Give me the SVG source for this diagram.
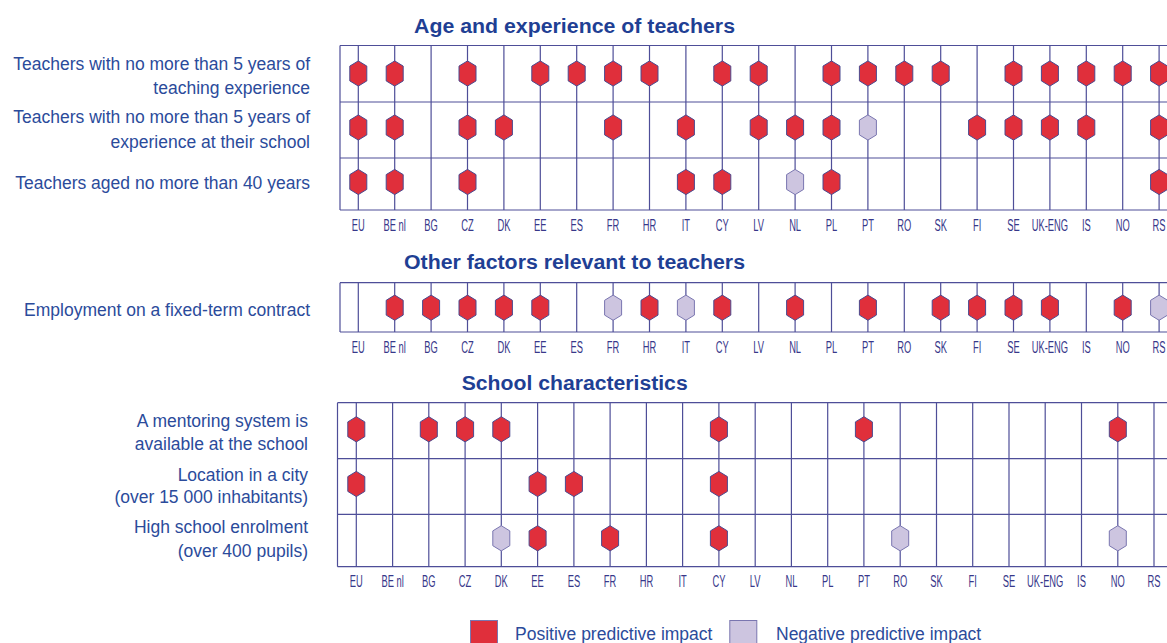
<svg xmlns="http://www.w3.org/2000/svg" width="1167" height="643" viewBox="0 0 1167 643">
<style>
.bg{fill:#ffffff}
.grid line{stroke:#4e4e98;stroke-width:1.2}
.title{font-family:"Liberation Sans",Arial,sans-serif;font-weight:bold;font-size:20px;fill:#1f3f94;text-anchor:middle}
.lab{font-family:"Liberation Sans",Arial,sans-serif;font-size:17.5px;fill:#2b4b9b;text-anchor:end}
.ax{font-family:"Liberation Sans",Arial,sans-serif;font-size:17px;fill:#38388a;text-anchor:middle}
.leg{font-family:"Liberation Sans",Arial,sans-serif;font-size:17.5px;fill:#2b4b9b}
.pos{fill:#e02f3b;stroke:#4a4a90;stroke-width:1}
.neg{fill:#cdc5e0;stroke:#7a76b0;stroke-width:1}
</style>
<defs>
<path id="hex" d="M0,-12.6 L8.5,-7.4 L8.5,7.4 L0,12.6 L-8.5,7.4 L-8.5,-7.4 Z"/>
</defs>
<rect class="bg" x="0" y="0" width="1167" height="643"/>

<!-- Panel 1 -->
<g id="panel-age">
<text class="title" x="574.5" y="32.5" textLength="321" lengthAdjust="spacingAndGlyphs">Age and experience of teachers</text>
<g id="labels-age">
<text class="lab" x="310" y="70">Teachers with no more than 5 years of</text>
<text class="lab" x="310" y="94.3">teaching experience</text>
<text class="lab" x="310" y="123.3">Teachers with no more than 5 years of</text>
<text class="lab" x="310" y="148.3">experience at their school</text>
<text class="lab" x="310" y="189">Teachers aged no more than 40 years</text>
</g>
<g class="grid" id="grid-age">
<line x1="340" y1="45.5" x2="1167" y2="45.5"/>
<line x1="340" y1="102" x2="1167" y2="102"/>
<line x1="340" y1="158" x2="1167" y2="158"/>
<line x1="340" y1="210" x2="1167" y2="210"/>
<line x1="340" y1="45.5" x2="340" y2="210"/>
<line x1="358.3" y1="45.5" x2="358.3" y2="210"/>
<line x1="394.7" y1="45.5" x2="394.7" y2="210"/>
<line x1="431.1" y1="45.5" x2="431.1" y2="210"/>
<line x1="467.5" y1="45.5" x2="467.5" y2="210"/>
<line x1="503.9" y1="45.5" x2="503.9" y2="210"/>
<line x1="540.3" y1="45.5" x2="540.3" y2="210"/>
<line x1="576.7" y1="45.5" x2="576.7" y2="210"/>
<line x1="613.1" y1="45.5" x2="613.1" y2="210"/>
<line x1="649.5" y1="45.5" x2="649.5" y2="210"/>
<line x1="685.9" y1="45.5" x2="685.9" y2="210"/>
<line x1="722.3" y1="45.5" x2="722.3" y2="210"/>
<line x1="758.7" y1="45.5" x2="758.7" y2="210"/>
<line x1="795.1" y1="45.5" x2="795.1" y2="210"/>
<line x1="831.5" y1="45.5" x2="831.5" y2="210"/>
<line x1="867.9" y1="45.5" x2="867.9" y2="210"/>
<line x1="904.3" y1="45.5" x2="904.3" y2="210"/>
<line x1="940.7" y1="45.5" x2="940.7" y2="210"/>
<line x1="977.1" y1="45.5" x2="977.1" y2="210"/>
<line x1="1013.5" y1="45.5" x2="1013.5" y2="210"/>
<line x1="1049.9" y1="45.5" x2="1049.9" y2="210"/>
<line x1="1086.3" y1="45.5" x2="1086.3" y2="210"/>
<line x1="1122.7" y1="45.5" x2="1122.7" y2="210"/>
<line x1="1159.1" y1="45.5" x2="1159.1" y2="210"/>
</g>
<g id="markers-age">
<use href="#hex" class="pos" x="358.3" y="73.5"/>
<use href="#hex" class="pos" x="394.7" y="73.5"/>
<use href="#hex" class="pos" x="467.5" y="73.5"/>
<use href="#hex" class="pos" x="540.3" y="73.5"/>
<use href="#hex" class="pos" x="576.7" y="73.5"/>
<use href="#hex" class="pos" x="613.1" y="73.5"/>
<use href="#hex" class="pos" x="649.5" y="73.5"/>
<use href="#hex" class="pos" x="722.3" y="73.5"/>
<use href="#hex" class="pos" x="758.7" y="73.5"/>
<use href="#hex" class="pos" x="831.5" y="73.5"/>
<use href="#hex" class="pos" x="867.9" y="73.5"/>
<use href="#hex" class="pos" x="904.3" y="73.5"/>
<use href="#hex" class="pos" x="940.7" y="73.5"/>
<use href="#hex" class="pos" x="1013.5" y="73.5"/>
<use href="#hex" class="pos" x="1049.9" y="73.5"/>
<use href="#hex" class="pos" x="1086.3" y="73.5"/>
<use href="#hex" class="pos" x="1122.7" y="73.5"/>
<use href="#hex" class="pos" x="1159.1" y="73.5"/>

<use href="#hex" class="pos" x="358.3" y="127.5"/>
<use href="#hex" class="pos" x="394.7" y="127.5"/>
<use href="#hex" class="pos" x="467.5" y="127.5"/>
<use href="#hex" class="pos" x="503.9" y="127.5"/>
<use href="#hex" class="pos" x="613.1" y="127.5"/>
<use href="#hex" class="pos" x="685.9" y="127.5"/>
<use href="#hex" class="pos" x="758.7" y="127.5"/>
<use href="#hex" class="pos" x="795.1" y="127.5"/>
<use href="#hex" class="pos" x="831.5" y="127.5"/>
<use href="#hex" class="neg" x="867.9" y="127.5"/>
<use href="#hex" class="pos" x="977.1" y="127.5"/>
<use href="#hex" class="pos" x="1013.5" y="127.5"/>
<use href="#hex" class="pos" x="1049.9" y="127.5"/>
<use href="#hex" class="pos" x="1086.3" y="127.5"/>
<use href="#hex" class="pos" x="1159.1" y="127.5"/>

<use href="#hex" class="pos" x="358.3" y="182"/>
<use href="#hex" class="pos" x="394.7" y="182"/>
<use href="#hex" class="pos" x="467.5" y="182"/>
<use href="#hex" class="pos" x="685.9" y="182"/>
<use href="#hex" class="pos" x="722.3" y="182"/>
<use href="#hex" class="neg" x="795.1" y="182"/>
<use href="#hex" class="pos" x="831.5" y="182"/>
<use href="#hex" class="pos" x="1159.1" y="182"/>
</g>
<g id="axis-age">
<text class="ax" transform="translate(358.3,230.5) scale(0.55,1)">EU</text>
<text class="ax" transform="translate(394.7,230.5) scale(0.55,1)">BE nl</text>
<text class="ax" transform="translate(431.1,230.5) scale(0.55,1)">BG</text>
<text class="ax" transform="translate(467.5,230.5) scale(0.55,1)">CZ</text>
<text class="ax" transform="translate(503.9,230.5) scale(0.55,1)">DK</text>
<text class="ax" transform="translate(540.3,230.5) scale(0.55,1)">EE</text>
<text class="ax" transform="translate(576.7,230.5) scale(0.55,1)">ES</text>
<text class="ax" transform="translate(613.1,230.5) scale(0.55,1)">FR</text>
<text class="ax" transform="translate(649.5,230.5) scale(0.55,1)">HR</text>
<text class="ax" transform="translate(685.9,230.5) scale(0.55,1)">IT</text>
<text class="ax" transform="translate(722.3,230.5) scale(0.55,1)">CY</text>
<text class="ax" transform="translate(758.7,230.5) scale(0.55,1)">LV</text>
<text class="ax" transform="translate(795.1,230.5) scale(0.55,1)">NL</text>
<text class="ax" transform="translate(831.5,230.5) scale(0.55,1)">PL</text>
<text class="ax" transform="translate(867.9,230.5) scale(0.55,1)">PT</text>
<text class="ax" transform="translate(904.3,230.5) scale(0.55,1)">RO</text>
<text class="ax" transform="translate(940.7,230.5) scale(0.55,1)">SK</text>
<text class="ax" transform="translate(977.1,230.5) scale(0.55,1)">FI</text>
<text class="ax" transform="translate(1013.5,230.5) scale(0.55,1)">SE</text>
<text class="ax" transform="translate(1049.9,230.5) scale(0.55,1)">UK-ENG</text>
<text class="ax" transform="translate(1086.3,230.5) scale(0.55,1)">IS</text>
<text class="ax" transform="translate(1122.7,230.5) scale(0.55,1)">NO</text>
<text class="ax" transform="translate(1159.1,230.5) scale(0.55,1)">RS</text>
</g>
</g>

<!-- Panel 2 -->
<g id="panel-other">
<text class="title" x="574.5" y="269" textLength="341" lengthAdjust="spacingAndGlyphs">Other factors relevant to teachers</text>
<text class="lab" x="310" y="316">Employment on a fixed-term contract</text>
<g class="grid" id="grid-other">
<line x1="340" y1="282.7" x2="1167" y2="282.7"/>
<line x1="340" y1="332" x2="1167" y2="332"/>
<line x1="340" y1="282.7" x2="340" y2="332"/>
<line x1="358.3" y1="282.7" x2="358.3" y2="332"/>
<line x1="394.7" y1="282.7" x2="394.7" y2="332"/>
<line x1="431.1" y1="282.7" x2="431.1" y2="332"/>
<line x1="467.5" y1="282.7" x2="467.5" y2="332"/>
<line x1="503.9" y1="282.7" x2="503.9" y2="332"/>
<line x1="540.3" y1="282.7" x2="540.3" y2="332"/>
<line x1="576.7" y1="282.7" x2="576.7" y2="332"/>
<line x1="613.1" y1="282.7" x2="613.1" y2="332"/>
<line x1="649.5" y1="282.7" x2="649.5" y2="332"/>
<line x1="685.9" y1="282.7" x2="685.9" y2="332"/>
<line x1="722.3" y1="282.7" x2="722.3" y2="332"/>
<line x1="758.7" y1="282.7" x2="758.7" y2="332"/>
<line x1="795.1" y1="282.7" x2="795.1" y2="332"/>
<line x1="831.5" y1="282.7" x2="831.5" y2="332"/>
<line x1="867.9" y1="282.7" x2="867.9" y2="332"/>
<line x1="904.3" y1="282.7" x2="904.3" y2="332"/>
<line x1="940.7" y1="282.7" x2="940.7" y2="332"/>
<line x1="977.1" y1="282.7" x2="977.1" y2="332"/>
<line x1="1013.5" y1="282.7" x2="1013.5" y2="332"/>
<line x1="1049.9" y1="282.7" x2="1049.9" y2="332"/>
<line x1="1086.3" y1="282.7" x2="1086.3" y2="332"/>
<line x1="1122.7" y1="282.7" x2="1122.7" y2="332"/>
<line x1="1159.1" y1="282.7" x2="1159.1" y2="332"/>
</g>
<g id="markers-other">
<use href="#hex" class="pos" x="394.7" y="307.7"/>
<use href="#hex" class="pos" x="431.1" y="307.7"/>
<use href="#hex" class="pos" x="467.5" y="307.7"/>
<use href="#hex" class="pos" x="503.9" y="307.7"/>
<use href="#hex" class="pos" x="540.3" y="307.7"/>
<use href="#hex" class="neg" x="613.1" y="307.7"/>
<use href="#hex" class="pos" x="649.5" y="307.7"/>
<use href="#hex" class="neg" x="685.9" y="307.7"/>
<use href="#hex" class="pos" x="722.3" y="307.7"/>
<use href="#hex" class="pos" x="795.1" y="307.7"/>
<use href="#hex" class="pos" x="867.9" y="307.7"/>
<use href="#hex" class="pos" x="940.7" y="307.7"/>
<use href="#hex" class="pos" x="977.1" y="307.7"/>
<use href="#hex" class="pos" x="1013.5" y="307.7"/>
<use href="#hex" class="pos" x="1049.9" y="307.7"/>
<use href="#hex" class="pos" x="1122.7" y="307.7"/>
<use href="#hex" class="neg" x="1159.1" y="307.7"/>
</g>
<g id="axis-other">
<text class="ax" transform="translate(358.3,353) scale(0.55,1)">EU</text>
<text class="ax" transform="translate(394.7,353) scale(0.55,1)">BE nl</text>
<text class="ax" transform="translate(431.1,353) scale(0.55,1)">BG</text>
<text class="ax" transform="translate(467.5,353) scale(0.55,1)">CZ</text>
<text class="ax" transform="translate(503.9,353) scale(0.55,1)">DK</text>
<text class="ax" transform="translate(540.3,353) scale(0.55,1)">EE</text>
<text class="ax" transform="translate(576.7,353) scale(0.55,1)">ES</text>
<text class="ax" transform="translate(613.1,353) scale(0.55,1)">FR</text>
<text class="ax" transform="translate(649.5,353) scale(0.55,1)">HR</text>
<text class="ax" transform="translate(685.9,353) scale(0.55,1)">IT</text>
<text class="ax" transform="translate(722.3,353) scale(0.55,1)">CY</text>
<text class="ax" transform="translate(758.7,353) scale(0.55,1)">LV</text>
<text class="ax" transform="translate(795.1,353) scale(0.55,1)">NL</text>
<text class="ax" transform="translate(831.5,353) scale(0.55,1)">PL</text>
<text class="ax" transform="translate(867.9,353) scale(0.55,1)">PT</text>
<text class="ax" transform="translate(904.3,353) scale(0.55,1)">RO</text>
<text class="ax" transform="translate(940.7,353) scale(0.55,1)">SK</text>
<text class="ax" transform="translate(977.1,353) scale(0.55,1)">FI</text>
<text class="ax" transform="translate(1013.5,353) scale(0.55,1)">SE</text>
<text class="ax" transform="translate(1049.9,353) scale(0.55,1)">UK-ENG</text>
<text class="ax" transform="translate(1086.3,353) scale(0.55,1)">IS</text>
<text class="ax" transform="translate(1122.7,353) scale(0.55,1)">NO</text>
<text class="ax" transform="translate(1159.1,353) scale(0.55,1)">RS</text>
</g>
</g>

<!-- Panel 3 -->
<g id="panel-school">
<text class="title" x="574.7" y="390" textLength="226" lengthAdjust="spacingAndGlyphs">School characteristics</text>
<g id="labels-school">
<text class="lab" x="308" y="426.5">A mentoring system is</text>
<text class="lab" x="308" y="450">available at the school</text>
<text class="lab" x="308" y="480.5">Location in a city</text>
<text class="lab" x="308" y="502.5">(over 15 000 inhabitants)</text>
<text class="lab" x="308" y="533">High school enrolment</text>
<text class="lab" x="308" y="556.5">(over 400 pupils)</text>
</g>
<g class="grid" id="grid-school">
<line x1="337.5" y1="402.7" x2="1167" y2="402.7"/>
<line x1="337.5" y1="458.7" x2="1167" y2="458.7"/>
<line x1="337.5" y1="514.3" x2="1167" y2="514.3"/>
<line x1="337.5" y1="566.7" x2="1167" y2="566.7"/>
<line x1="337.5" y1="402.7" x2="337.5" y2="566.7"/>
<line x1="356.3" y1="402.7" x2="356.3" y2="566.7"/>
<line x1="392.6" y1="402.7" x2="392.6" y2="566.7"/>
<line x1="428.8" y1="402.7" x2="428.8" y2="566.7"/>
<line x1="465.1" y1="402.7" x2="465.1" y2="566.7"/>
<line x1="501.3" y1="402.7" x2="501.3" y2="566.7"/>
<line x1="537.6" y1="402.7" x2="537.6" y2="566.7"/>
<line x1="573.9" y1="402.7" x2="573.9" y2="566.7"/>
<line x1="610.1" y1="402.7" x2="610.1" y2="566.7"/>
<line x1="646.4" y1="402.7" x2="646.4" y2="566.7"/>
<line x1="682.6" y1="402.7" x2="682.6" y2="566.7"/>
<line x1="718.9" y1="402.7" x2="718.9" y2="566.7"/>
<line x1="755.2" y1="402.7" x2="755.2" y2="566.7"/>
<line x1="791.4" y1="402.7" x2="791.4" y2="566.7"/>
<line x1="827.7" y1="402.7" x2="827.7" y2="566.7"/>
<line x1="863.9" y1="402.7" x2="863.9" y2="566.7"/>
<line x1="900.2" y1="402.7" x2="900.2" y2="566.7"/>
<line x1="936.5" y1="402.7" x2="936.5" y2="566.7"/>
<line x1="972.7" y1="402.7" x2="972.7" y2="566.7"/>
<line x1="1009" y1="402.7" x2="1009" y2="566.7"/>
<line x1="1045.2" y1="402.7" x2="1045.2" y2="566.7"/>
<line x1="1081.5" y1="402.7" x2="1081.5" y2="566.7"/>
<line x1="1117.8" y1="402.7" x2="1117.8" y2="566.7"/>
<line x1="1154" y1="402.7" x2="1154" y2="566.7"/>
</g>
<g id="markers-school">
<use href="#hex" class="pos" x="356.3" y="429.3"/>
<use href="#hex" class="pos" x="428.8" y="429.3"/>
<use href="#hex" class="pos" x="465.1" y="429.3"/>
<use href="#hex" class="pos" x="501.3" y="429.3"/>
<use href="#hex" class="pos" x="718.9" y="429.3"/>
<use href="#hex" class="pos" x="863.9" y="429.3"/>
<use href="#hex" class="pos" x="1117.8" y="429.3"/>

<use href="#hex" class="pos" x="356.3" y="484"/>
<use href="#hex" class="pos" x="537.6" y="484"/>
<use href="#hex" class="pos" x="573.9" y="484"/>
<use href="#hex" class="pos" x="718.9" y="484"/>

<use href="#hex" class="neg" x="501.3" y="538.3"/>
<use href="#hex" class="pos" x="537.6" y="538.3"/>
<use href="#hex" class="pos" x="610.1" y="538.3"/>
<use href="#hex" class="pos" x="718.9" y="538.3"/>
<use href="#hex" class="neg" x="900.2" y="538.3"/>
<use href="#hex" class="neg" x="1117.8" y="538.3"/>
</g>
<g id="axis-school">
<text class="ax" transform="translate(356.3,586.7) scale(0.55,1)">EU</text>
<text class="ax" transform="translate(392.6,586.7) scale(0.55,1)">BE nl</text>
<text class="ax" transform="translate(428.8,586.7) scale(0.55,1)">BG</text>
<text class="ax" transform="translate(465.1,586.7) scale(0.55,1)">CZ</text>
<text class="ax" transform="translate(501.3,586.7) scale(0.55,1)">DK</text>
<text class="ax" transform="translate(537.6,586.7) scale(0.55,1)">EE</text>
<text class="ax" transform="translate(573.9,586.7) scale(0.55,1)">ES</text>
<text class="ax" transform="translate(610.1,586.7) scale(0.55,1)">FR</text>
<text class="ax" transform="translate(646.4,586.7) scale(0.55,1)">HR</text>
<text class="ax" transform="translate(682.6,586.7) scale(0.55,1)">IT</text>
<text class="ax" transform="translate(718.9,586.7) scale(0.55,1)">CY</text>
<text class="ax" transform="translate(755.2,586.7) scale(0.55,1)">LV</text>
<text class="ax" transform="translate(791.4,586.7) scale(0.55,1)">NL</text>
<text class="ax" transform="translate(827.7,586.7) scale(0.55,1)">PL</text>
<text class="ax" transform="translate(863.9,586.7) scale(0.55,1)">PT</text>
<text class="ax" transform="translate(900.2,586.7) scale(0.55,1)">RO</text>
<text class="ax" transform="translate(936.5,586.7) scale(0.55,1)">SK</text>
<text class="ax" transform="translate(972.7,586.7) scale(0.55,1)">FI</text>
<text class="ax" transform="translate(1009,586.7) scale(0.55,1)">SE</text>
<text class="ax" transform="translate(1045.2,586.7) scale(0.55,1)">UK-ENG</text>
<text class="ax" transform="translate(1081.5,586.7) scale(0.55,1)">IS</text>
<text class="ax" transform="translate(1117.8,586.7) scale(0.55,1)">NO</text>
<text class="ax" transform="translate(1154,586.7) scale(0.55,1)">RS</text>
</g>
</g>

<!-- Legend -->
<g id="legend">
<rect x="470.5" y="620.5" width="27" height="27" fill="#e02f3b" stroke="#7a76b0" stroke-width="1"/>
<text class="leg" x="515" y="639.5">Positive predictive impact</text>
<rect x="729.8" y="620.5" width="27" height="27" fill="#cdc5e0" stroke="#7a76b0" stroke-width="1"/>
<text class="leg" x="776" y="639.5">Negative predictive impact</text>
</g>
</svg>
